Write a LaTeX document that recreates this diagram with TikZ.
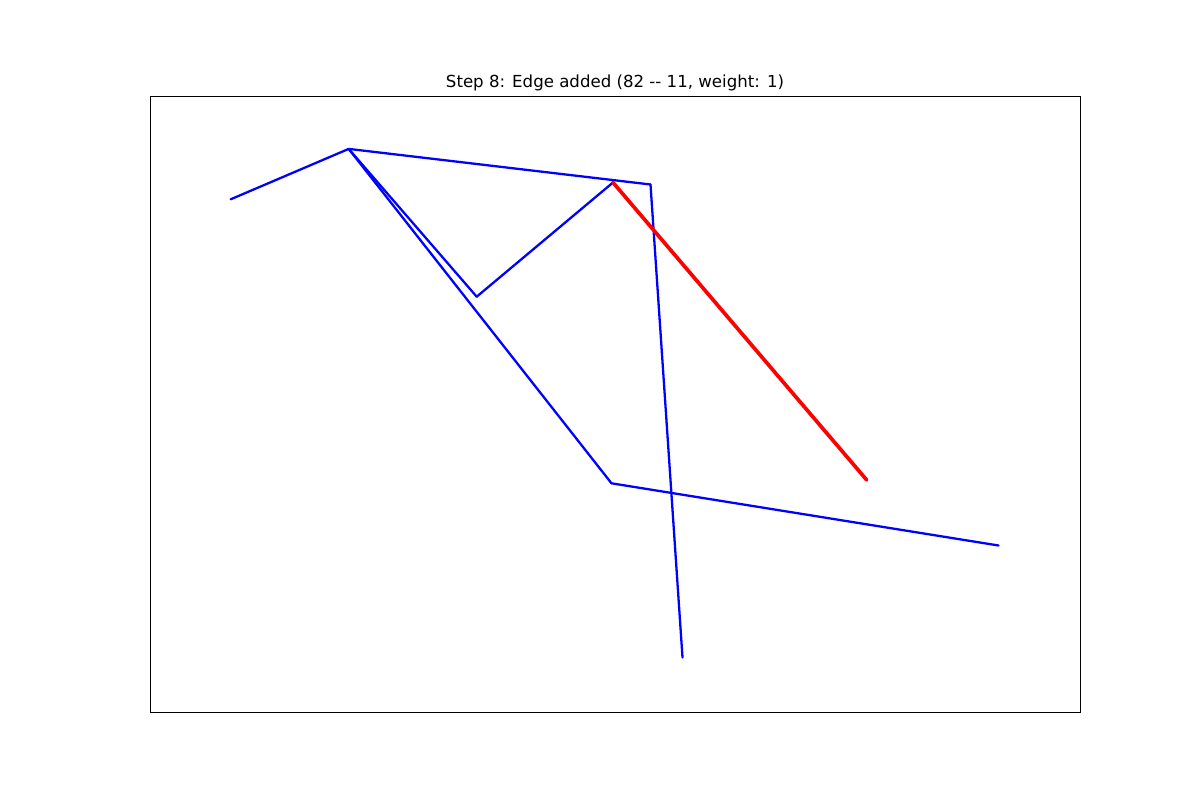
\documentclass[tikz,border=0pt]{standalone}
\usepackage{fontspec}
\setmainfont{DejaVu Sans}
\begin{document}
\begin{tikzpicture}[x=0.02cm,y=-0.02cm,
  blueedge/.style={draw=blue,line width=1.3pt,line cap=round,line join=round},
  rededge/.style={draw=red,line width=2.1pt,line cap=round},
  pt/.style={inner sep=0pt,minimum size=0pt}]
\useasboundingbox (0,0) rectangle (1200,800);
\draw[line width=0.5pt] (150,96) rectangle (1080,712);
\node[anchor=base,font=\fontsize{9.45}{11}\selectfont] (title) at (615,87.5) {Step 8: Edge added (82 {-}{-} 11, weight: 1)};
\coordinate (A) at (230.7,199.3);
\coordinate (B) at (348.7,148.9);
\coordinate (C) at (476.7,296.7);
\coordinate (D) at (613,182.5);
\coordinate (E) at (650.5,184.5);
\coordinate (F) at (611.5,483.3);
\coordinate (G) at (998.5,545.5);
\coordinate (H) at (682.5,657.5);
\coordinate (I) at (866.7,480);
\draw[blueedge] (A) -- (B);
\draw[blueedge] (B) -- (E);
\draw[blueedge] (B) -- (C);
\draw[blueedge] (C) -- (D);
\draw[blueedge] (B) -- (F);
\draw[blueedge] (F) -- (G);
\draw[blueedge] (E) -- (H);
\draw[rededge] (D) -- (I);
\end{tikzpicture}
\end{document}
